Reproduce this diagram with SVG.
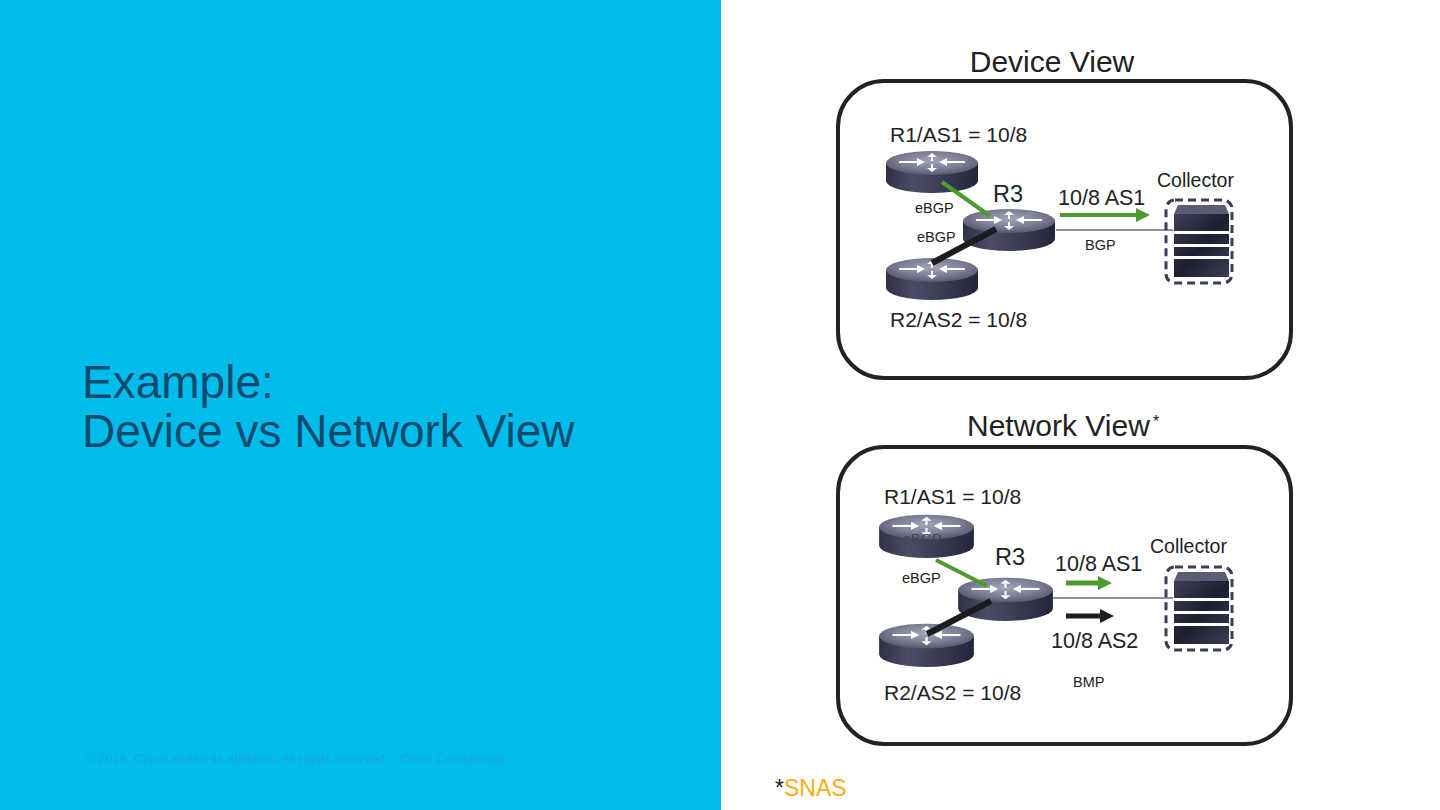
<svg xmlns="http://www.w3.org/2000/svg" xmlns:xlink="http://www.w3.org/1999/xlink" width="1440" height="810" viewBox="0 0 1440 810">
<style>
  .t { font-family: "Liberation Sans", Arial, sans-serif; fill: #222; }
  .frame { fill: #fff; stroke: #222; stroke-width: 4; }
  .thin { stroke: #222; stroke-width: 1.2; fill: none; }
  .green { stroke: #4d9a2f; stroke-width: 4; stroke-linecap: butt; }
  .black { stroke: #1c1c1c; stroke-width: 6; }
</style>
<defs>
  <linearGradient id="side" x1="0" y1="0" x2="1" y2="0">
    <stop offset="0" stop-color="#2e3046"/>
    <stop offset="0.3" stop-color="#4b4d66"/>
    <stop offset="0.7" stop-color="#35374e"/>
    <stop offset="1" stop-color="#24253a"/>
  </linearGradient>
  <radialGradient id="top" cx="0.5" cy="0.4" r="0.6">
    <stop offset="0" stop-color="#a2a5b8"/>
    <stop offset="0.6" stop-color="#7a7d94"/>
    <stop offset="1" stop-color="#54576e"/>
  </radialGradient>
  <linearGradient id="srv" x1="0" y1="0" x2="1" y2="1">
    <stop offset="0" stop-color="#3e4058"/>
    <stop offset="0.5" stop-color="#1d1e2e"/>
    <stop offset="1" stop-color="#3a3c55"/>
  </linearGradient>
  <g id="router-icon">
    <path d="M-46,0 L-46,18 A46,12 0 0 0 46,18 L46,0 Z" fill="url(#side)"/>
    <ellipse cx="0" cy="0" rx="46" ry="12" fill="url(#top)"/>
    <g stroke="#fff" stroke-width="2" fill="#fff">
      <line x1="-33" y1="-1" x2="-14" y2="-1"/>
      <polygon points="-15,-5 -7,-1 -15,3" stroke="none"/>
      <line x1="33" y1="-1" x2="14" y2="-1"/>
      <polygon points="15,-5 7,-1 15,3" stroke="none"/>
      <line x1="0" y1="-2" x2="0" y2="-6"/>
      <polygon points="-5,-6 0,-10 5,-6" stroke="none"/>
      <line x1="0" y1="1" x2="0" y2="5"/>
      <polygon points="-5,5 0,9 5,5" stroke="none"/>
    </g>
  </g>
  <g id="collector-icon">
    <rect x="0" y="0" width="66" height="83" rx="9" fill="none" stroke="#3b3e58" stroke-width="3" stroke-dasharray="8 5"/>
    <rect x="8" y="14" width="55" height="63" fill="url(#srv)"/>
    <polygon points="12,5 59,5 63,14 8,14" fill="#5a5d75"/>
    <rect x="8" y="31" width="55" height="3" fill="#fff"/>
    <rect x="8" y="44" width="55" height="3" fill="#fff"/>
    <rect x="8" y="56" width="55" height="3" fill="#fff"/>
  </g>
</defs>

<rect x="0" y="0" width="1440" height="810" fill="#fff"/>

<g id="left-panel">
  <rect x="0" y="0" width="721" height="810" fill="#00bceb"/>
  <text x="82" y="398" font-family="Liberation Sans, Arial, sans-serif" font-size="46" fill="#0e4a6e">Example:</text>
  <text x="82" y="447" font-family="Liberation Sans, Arial, sans-serif" font-size="46" fill="#0e4a6e">Device vs Network View</text>
  <text x="85" y="763" font-family="Liberation Sans, Arial, sans-serif" font-size="13" fill="#19a6d6" xml:space="preserve">© 2018  Cisco and/or its affiliates. All rights reserved.   Cisco Confidential</text>
</g>

<!-- Device View -->
<g id="device-view">
  <text class="t" x="1052" y="72" font-size="30" text-anchor="middle">Device View</text>
  <rect class="frame" x="838" y="81" width="453" height="297" rx="46"/>
</g>

<g id="dv-r1">
  <use xlink:href="#router-icon" href="#router-icon" x="932" y="163"/>
  <text class="t" x="890" y="142" font-size="21">R1/AS1 = 10/8</text>
</g>
<g id="dv-r3">
  <use xlink:href="#router-icon" href="#router-icon" x="1009" y="221"/>
  <text class="t" x="993" y="202" font-size="23.5">R3</text>
</g>
<g id="dv-r2">
  <use xlink:href="#router-icon" href="#router-icon" x="932" y="270"/>
  <text class="t" x="890" y="327" font-size="21">R2/AS2 = 10/8</text>
</g>
<g id="dv-collector">
  <use xlink:href="#collector-icon" href="#collector-icon" x="1166" y="200"/>
  <text class="t" x="1157" y="187" font-size="19.5">Collector</text>
</g>

<!-- Network View -->
<g id="network-view">
  <text class="t" x="967" y="436" font-size="30">Network View</text>
  <text class="t" x="1153" y="427" font-size="16">*</text>
  <rect class="frame" x="838" y="447" width="453" height="297" rx="46"/>
</g>

<g id="nv-r1">
  <use xlink:href="#router-icon" href="#router-icon" transform="translate(926.5,527) scale(1.03)"/>
  <text class="t" x="884" y="504" font-size="21">R1/AS1 = 10/8</text>
</g>
<g id="nv-r3">
  <use xlink:href="#router-icon" href="#router-icon" transform="translate(1005.5,590) scale(1.03)"/>
  <text class="t" x="995" y="565" font-size="23.5">R3</text>
</g>
<g id="nv-r2">
  <use xlink:href="#router-icon" href="#router-icon" transform="translate(926.5,636) scale(1.03)"/>
  <text class="t" x="884" y="700" font-size="21">R2/AS2 = 10/8</text>
</g>
<g id="nv-collector">
  <use xlink:href="#collector-icon" href="#collector-icon" x="1166" y="567"/>
  <text class="t" x="1150" y="553" font-size="19.5">Collector</text>
</g>

<g id="connectors">
  <!-- device view -->
  <line class="green" x1="942" y1="182" x2="990" y2="216"/>
  <line class="black" x1="932" y1="263" x2="996" y2="229"/>
  <line class="thin" x1="1056" y1="230" x2="1173" y2="230"/>
  <line class="green" x1="1060" y1="215" x2="1138" y2="215"/>
  <polygon points="1136,208 1150,215 1136,222" fill="#4d9a2f"/>
  <text class="t" x="915" y="213" font-size="14.5">eBGP</text>
  <text class="t" x="917" y="242" font-size="14.5">eBGP</text>
  <text class="t" x="1058" y="205" font-size="21.5">10/8 AS1</text>
  <text class="t" x="1085" y="250" font-size="14.5">BGP</text>

  <!-- network view -->
  <line class="green" x1="936" y1="560" x2="987" y2="586"/>
  <line class="black" x1="927" y1="634" x2="991" y2="601"/>
  <line class="thin" x1="1053" y1="598" x2="1173" y2="598"/>
  <line stroke="#4d9a2f" stroke-width="5" x1="1066" y1="583" x2="1100" y2="583"/>
  <polygon points="1098,576 1112,583 1098,590" fill="#4d9a2f"/>
  <line stroke="#1c1c1c" stroke-width="5" x1="1066" y1="616" x2="1102" y2="616"/>
  <polygon points="1100,609 1114,616 1100,623" fill="#1c1c1c"/>
  <text x="903" y="544" font-family="Liberation Sans, Arial, sans-serif" font-size="14.5" fill="#464654">eBGP</text>
  <text class="t" x="902" y="583" font-size="14.5">eBGP</text>
  <text class="t" x="1055" y="571" font-size="21.5">10/8 AS1</text>
  <text class="t" x="1051" y="648" font-size="21.5">10/8 AS2</text>
  <text class="t" x="1073" y="687" font-size="14.5">BMP</text>
</g>

<g id="footnote">
  <text x="775" y="796" font-family="Liberation Sans, Arial, sans-serif" font-size="23"><tspan fill="#222">*</tspan><tspan fill="#fbab18">SNAS</tspan></text>
</g>
</svg>
